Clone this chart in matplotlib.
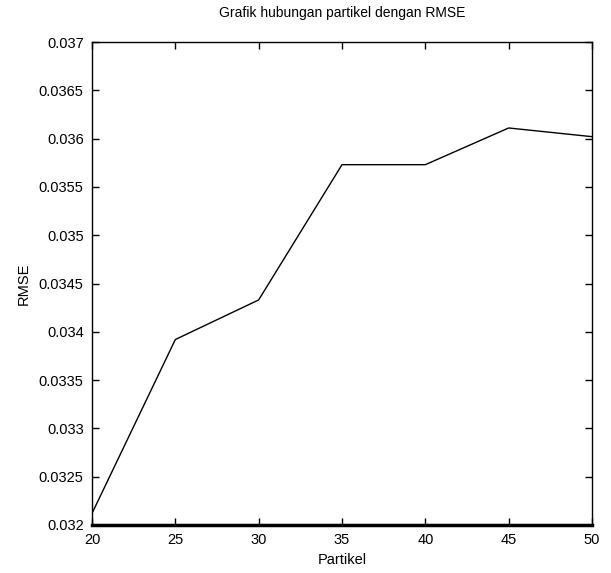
import matplotlib
matplotlib.use("Agg")
import matplotlib.pyplot as plt

partikel = [20, 25, 30, 35, 40, 45, 50]
rmse = [0.03212, 0.03392, 0.03433, 0.03573, 0.03573, 0.03611, 0.03602]

xticks = [20, 25, 30, 35, 40, 45, 50]
yticks = [0.032, 0.0325, 0.033, 0.0335, 0.034, 0.0345, 0.035, 0.0355, 0.036, 0.0365, 0.037]
ylabels = ["0.032", "0.0325", "0.033", "0.0335", "0.034", "0.0345",
           "0.035", "0.0355", "0.036", "0.0365", "0.037"]

plt.rcParams["font.family"] = ["Liberation Sans Narrow", "Liberation Sans", "DejaVu Sans"]

fig = plt.figure(figsize=(6.11, 5.73), dpi=100)
ax = fig.add_axes([92 / 611, 1 - 525 / 573, 500 / 611, 483 / 573])

ax.plot(partikel, rmse, color="black", linewidth=1.0)

ax.set_xlim(20, 50)
ax.set_ylim(0.032, 0.037)
ax.set_xticks(xticks)
ax.set_xticklabels([str(x) for x in xticks])
ax.set_yticks(yticks)
ax.set_yticklabels(ylabels)
ax.tick_params(direction="in", top=True, right=True, length=5, width=1,
               pad=6, labelsize=10.5)

for s in ax.spines.values():
    s.set_linewidth(1.0)
ax.spines["bottom"].set_linewidth(2.5)

ax.set_title("Grafik hubungan partikel dengan RMSE", fontsize=10, pad=18)
ax.set_xlabel("Partikel", fontsize=10.5, labelpad=4)
ax.set_ylabel("RMSE", fontsize=10.5, labelpad=6)

fig.savefig("out.png", dpi=100)
